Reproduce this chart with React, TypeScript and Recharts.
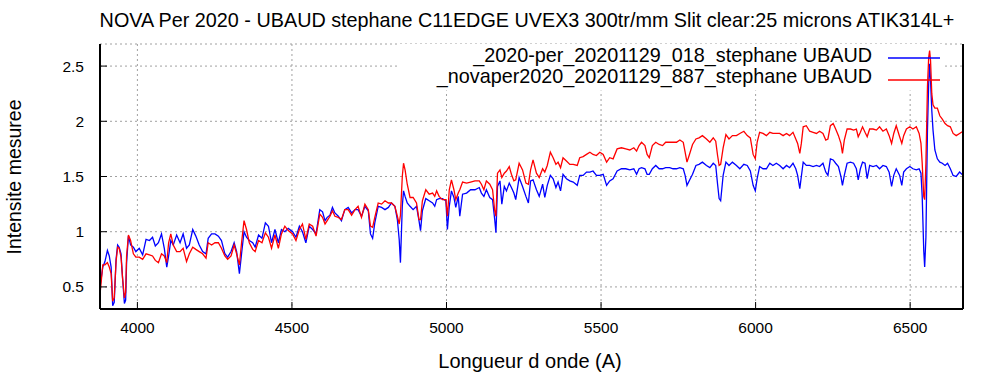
import React from "react";
import { LineChart, Line, XAxis, YAxis, CartesianGrid, ReferenceArea } from "recharts";

// wavelengths (A) shared by both spectra
const wavelengths = [
  3879, 3888, 3895, 3903, 3909, 3915, 3920, 3925, 3931, 3936, 3941, 3947, 3952, 3958, 3962, 3965,
  3971, 3978, 3987, 3995, 4006, 4017, 4028, 4039, 4049, 4058, 4068, 4078, 4087, 4095, 4101, 4108,
  4116, 4127, 4138, 4148, 4159, 4168, 4179, 4189, 4200, 4211, 4222, 4229, 4240, 4251, 4262, 4272,
  4283, 4292, 4303, 4313, 4321, 4330, 4337, 4345, 4353, 4362, 4373, 4381, 4392, 4403, 4414, 4424,
  4434, 4445, 4456, 4466, 4477, 4488, 4502, 4513, 4524, 4534, 4545, 4556, 4567, 4578,
  4590, 4599, 4607, 4614, 4623, 4631, 4639, 4650, 4660, 4671, 4682, 4693, 4704, 4714, 4725, 4736,
  4747, 4754, 4761, 4768, 4779, 4790, 4801, 4812, 4822, 4833, 4841, 4847, 4851, 4857, 4861, 4866,
  4873, 4882, 4892, 4903, 4911, 4916, 4922, 4933, 4944, 4955, 4962, 4968, 4976, 4987, 4998, 5003,
  5009, 5016, 5024, 5030, 5038, 5043, 5052, 5065, 5078, 5092, 5106, 5113, 5121, 5129, 5140, 5149,
  5156, 5160, 5165, 5173, 5179, 5187, 5194, 5203, 5210, 5218, 5224, 5235, 5246, 5257, 5265, 5272,
  5280, 5291, 5300,
  5311, 5318, 5326, 5336, 5345, 5354, 5361, 5369, 5377, 5388, 5399, 5410, 5423, 5431, 5442, 5453,
  5464, 5474, 5485, 5496, 5507, 5518, 5528, 5539, 5552, 5566, 5580, 5593, 5606, 5615, 5623, 5631,
  5642, 5649, 5656, 5666, 5677, 5688, 5699, 5709, 5722, 5733, 5744, 5755, 5766, 5772, 5778, 5785,
  5796, 5807, 5817, 5828, 5841, 5852, 5863, 5871, 5877, 5882, 5887, 5895, 5904, 5914, 5925, 5938,
  5949, 5962, 5973, 5983, 5992, 5999, 6005, 6013,
  6024, 6035, 6046, 6056, 6067, 6078, 6089, 6100, 6110, 6121, 6130, 6136, 6143, 6148, 6154, 6164,
  6175, 6186, 6197, 6207, 6218, 6227, 6234, 6242, 6251, 6259, 6268, 6276, 6281, 6287, 6296, 6307,
  6317, 6326, 6332, 6339, 6346, 6354, 6361, 6369, 6380, 6391, 6401, 6412, 6423, 6432, 6440, 6447,
  6455, 6466, 6473, 6479, 6488, 6499, 6509, 6520, 6529, 6535, 6539, 6544, 6547, 6551, 6556, 6560,
  6563, 6566, 6570, 6574, 6580, 6588, 6596, 6604, 6613, 6621, 6630, 6639, 6649, 6660, 6671,
];

// _2020-per_20201129_018 (blue)
const spectrum018 = [
  0.5, 0.68, 0.73, 0.83, 0.78, 0.68, 0.33, 0.36, 0.75, 0.88, 0.86, 0.8, 0.58, 0.35, 0.38, 0.72,
  0.96, 0.88, 0.86, 0.82, 0.85, 0.79, 0.93, 0.92, 0.95, 0.87, 0.9, 0.98, 0.85, 0.68, 0.78, 0.92,
  0.88, 0.97, 0.9, 0.98, 0.85, 0.88, 1.02, 0.96, 0.88, 0.82, 0.8, 0.94, 0.98, 0.98, 0.96, 0.92,
  0.8, 0.77, 0.82, 0.9, 0.82, 0.62, 0.8, 1.0, 0.95, 0.92, 0.9, 0.86, 0.97, 0.94, 1.08, 1.05,
  0.9, 1.02, 0.9, 1.02, 1.0, 1.03, 1.0, 0.95, 1.05, 1.0, 0.9, 1.05, 1.02, 0.98,
  1.2, 1.18, 1.1, 1.13, 1.15, 1.22, 1.17, 1.14, 1.1, 1.2, 1.22, 1.17, 1.2, 1.2, 1.14, 1.23,
  1.19, 0.98, 0.94, 1.08, 1.23, 1.22, 1.2, 1.22, 1.26, 1.23, 1.11, 0.93, 0.72, 1.23, 1.37, 1.32,
  1.26, 1.23, 1.2, 1.23, 1.1, 1.01, 1.19, 1.3, 1.28, 1.26, 1.23, 1.29, 1.3, 1.3, 1.28, 1.02,
  1.23, 1.37, 1.31, 1.22, 1.32, 1.14, 1.34, 1.35, 1.38, 1.38, 1.4, 1.35, 1.32, 1.38, 1.31, 1.29,
  1.11, 0.99, 1.41, 1.46, 1.25, 1.41, 1.37, 1.44, 1.4, 1.35, 1.29, 1.49, 1.41, 1.32, 1.26, 1.46,
  1.47, 1.38, 1.32,
  1.43, 1.31, 1.42, 1.51, 1.48, 1.4, 1.45, 1.37, 1.52, 1.48, 1.46, 1.45, 1.42, 1.51, 1.51, 1.54,
  1.54, 1.55, 1.51, 1.51, 1.52, 1.42, 1.46, 1.48, 1.55, 1.57, 1.57, 1.56, 1.57, 1.52, 1.57, 1.58,
  1.57, 1.52, 1.52, 1.57, 1.6, 1.57, 1.57, 1.58, 1.58, 1.57, 1.57, 1.58, 1.57, 1.51, 1.42, 1.46,
  1.52, 1.6, 1.61, 1.63, 1.6, 1.58, 1.62, 1.6, 1.43, 1.3, 1.28, 1.51, 1.63, 1.6, 1.63, 1.6,
  1.57, 1.61, 1.6, 1.55, 1.42, 1.37, 1.48, 1.59,
  1.57, 1.57, 1.62, 1.6, 1.62, 1.6, 1.57, 1.6, 1.58, 1.62, 1.57, 1.51, 1.39, 1.5, 1.63, 1.6,
  1.6, 1.59, 1.6, 1.59, 1.62, 1.54, 1.51, 1.66, 1.65, 1.62, 1.59, 1.5, 1.42, 1.51, 1.62, 1.63,
  1.62, 1.57, 1.47, 1.57, 1.63, 1.62, 1.48, 1.6, 1.59, 1.6, 1.57, 1.6, 1.59, 1.54, 1.41, 1.51,
  1.57, 1.51, 1.42, 1.54, 1.57, 1.59, 1.57, 1.56, 1.57, 1.53, 1.32, 0.83, 0.68, 0.95, 1.92, 2.34,
  2.52, 2.37, 2.1, 1.92, 1.74, 1.66, 1.63, 1.62, 1.6, 1.62, 1.57, 1.51, 1.5, 1.54, 1.51,
];

// _novaper2020_20201129_887 (red)
const spectrum887 = [
  0.43, 0.7, 0.7, 0.72, 0.68, 0.62, 0.37, 0.4, 0.73, 0.86, 0.85, 0.77, 0.58, 0.4, 0.45, 0.78,
  0.97, 0.92, 0.8, 0.77, 0.77, 0.75, 0.8, 0.79, 0.78, 0.74, 0.72, 0.8, 0.78, 0.72, 0.9, 0.98,
  0.88, 0.82, 0.82, 0.85, 0.73, 0.8, 0.86, 0.84, 0.82, 0.8, 0.76, 0.9, 0.88, 0.9, 0.9, 0.85,
  0.78, 0.75, 0.78, 0.88, 0.8, 0.7, 0.9, 1.1, 1.02, 0.9, 0.84, 0.82, 0.92, 0.9, 0.99, 0.95,
  0.85, 0.97, 0.85, 0.98, 1.05, 1.01, 0.98, 0.92, 1.02, 1.07, 0.93, 1.07, 1.05, 0.96,
  1.16, 1.13, 1.07, 1.1, 1.14, 1.19, 1.14, 1.13, 1.11, 1.2, 1.2, 1.15, 1.2, 1.23, 1.13, 1.25,
  1.2, 1.05, 1.04, 1.13, 1.26, 1.25, 1.28, 1.26, 1.26, 1.23, 1.14, 1.07, 1.15, 1.5, 1.62, 1.56,
  1.43, 1.31, 1.31, 1.26, 1.11, 1.11, 1.28, 1.38, 1.34, 1.35, 1.32, 1.37, 1.32, 1.29, 1.29, 1.14,
  1.38, 1.47, 1.38, 1.29, 1.35, 1.38, 1.45, 1.44, 1.45, 1.46, 1.46, 1.43, 1.38, 1.46, 1.43, 1.38,
  1.19, 1.14, 1.53, 1.56, 1.49, 1.53, 1.55, 1.59, 1.52, 1.46, 1.47, 1.62, 1.56, 1.44, 1.43, 1.56,
  1.65, 1.53, 1.49,
  1.57, 1.54, 1.6, 1.72, 1.67, 1.61, 1.63, 1.58, 1.67, 1.64, 1.61, 1.61, 1.6, 1.67, 1.68, 1.7,
  1.72, 1.7, 1.69, 1.72, 1.7, 1.63, 1.67, 1.66, 1.75, 1.76, 1.75, 1.74, 1.76, 1.73, 1.78, 1.81,
  1.78, 1.7, 1.67, 1.78, 1.81, 1.79, 1.78, 1.81, 1.81, 1.81, 1.81, 1.83, 1.81, 1.72, 1.63, 1.69,
  1.79, 1.84, 1.85, 1.87, 1.84, 1.81, 1.85, 1.82, 1.69, 1.6, 1.61, 1.76, 1.88, 1.84, 1.87, 1.87,
  1.89, 1.91, 1.87, 1.85, 1.7, 1.66, 1.81, 1.9,
  1.89, 1.87, 1.9, 1.89, 1.89, 1.89, 1.87, 1.89, 1.87, 1.9, 1.84, 1.8, 1.71, 1.8, 1.95, 1.96,
  1.91, 1.9, 1.89, 1.91, 1.89, 1.83, 1.84, 1.96, 1.98, 1.93, 1.87, 1.8, 1.71, 1.83, 1.93, 1.93,
  1.92, 1.93, 1.86, 1.9, 1.95, 1.9, 1.86, 1.93, 1.93, 1.92, 1.95, 1.91, 1.93, 1.87, 1.8, 1.89,
  1.96, 1.86, 1.8, 1.87, 1.93, 1.95, 1.93, 1.95, 1.89, 1.8, 1.62, 1.32, 1.29, 1.62, 2.31, 2.58,
  2.64, 2.55, 2.25, 2.15, 2.12, 2.12, 2.05, 2.02, 1.98, 1.96, 1.95, 1.89, 1.87, 1.89, 1.91,
];

const xTicks = [4000, 4500, 5000, 5500, 6000, 6500];
const yTicks = [0.5, 1, 1.5, 2, 2.5];
const seriesNames = [
  "_2020-per_20201129_018_stephane UBAUD",
  "_novaper2020_20201129_887_stephane UBAUD",
];
const seriesColors = ["#0000ff", "#ff0000"];

const data = wavelengths.map((w, i) => ({ w, s018: spectrum018[i], s887: spectrum887[i] }));

const font = "'Liberation Sans', Arial, sans-serif";
const axisStroke = { stroke: "#000", strokeWidth: 2 };

export default function App() {
  return (
    <div style={{ position: "absolute", left: 0, top: 0, width: 1000, height: 380, background: "#fff", fontFamily: font }}>
      <LineChart width={1000} height={380} data={data} margin={{ top: 44, right: 0, bottom: 0, left: 0 }}>
        <CartesianGrid stroke="#a0a0a0" strokeDasharray="2 3" />
        <XAxis
          dataKey="w"
          type="number"
          domain={[3879, 6671]}
          ticks={xTicks}
          allowDataOverflow
          height={71}
          tickSize={-7}
          tickMargin={20}
          axisLine={axisStroke}
          tickLine={{ stroke: "#000" }}
          tick={{ fill: "#000", fontSize: 15.5, fontFamily: font }}
        />
        <XAxis
          xAxisId="top"
          orientation="top"
          type="number"
          domain={[3879, 6671]}
          ticks={xTicks}
          allowDataOverflow
          height={0}
          tickSize={-7}
          tick={false}
          axisLine={axisStroke}
          tickLine={{ stroke: "#000" }}
        />
        <YAxis
          type="number"
          domain={[0.3, 2.7]}
          ticks={yTicks}
          allowDataOverflow
          width={100}
          tickSize={-7}
          tickMargin={23}
          axisLine={axisStroke}
          tickLine={{ stroke: "#000" }}
          tick={{ fill: "#000", fontSize: 15.5, fontFamily: font }}
        />
        <YAxis
          yAxisId="right"
          orientation="right"
          type="number"
          domain={[0.3, 2.7]}
          ticks={yTicks}
          allowDataOverflow
          width={37}
          tickSize={-7}
          tick={false}
          axisLine={axisStroke}
          tickLine={{ stroke: "#000" }}
        />
        {/* opaque key box */}
        <ReferenceArea x1={4840} x2={6612} y1={2.28} y2={2.7} fill="#fff" fillOpacity={1} stroke="none" />
        <Line type="linear" dataKey="s018" name={seriesNames[0]} stroke={seriesColors[0]} strokeWidth={1.3} dot={false} isAnimationActive={false} />
        <Line type="linear" dataKey="s887" name={seriesNames[1]} stroke={seriesColors[1]} strokeWidth={1.3} dot={false} isAnimationActive={false} />
      </LineChart>
      <svg width={1000} height={380} style={{ position: "absolute", left: 0, top: 0, pointerEvents: "none" }}>
        <text x={527} y={27} textAnchor="middle" fontSize={19.8} fill="#000" fontFamily={font}>
          NOVA Per 2020 - UBAUD stephane C11EDGE UVEX3 300tr/mm Slit clear:25 microns ATIK314L+
        </text>
        <text x={530} y={368} textAnchor="middle" fontSize={20} fill="#000" fontFamily={font}>
          Longueur d onde (A)
        </text>
        <text x={21} y={177} textAnchor="middle" fontSize={19.5} fill="#000" fontFamily={font} transform="rotate(-90 21 177)">
          Intensite mesuree
        </text>
        {seriesNames.map((name, i) => (
          <g key={name}>
            <text x={872} y={62 + i * 21} textAnchor="end" fontSize={19.8} fill="#000" fontFamily={font}>
              {name}
            </text>
            <line x1={888} x2={940} y1={58 + i * 22} y2={58 + i * 22} stroke={seriesColors[i]} strokeWidth={1.3} />
          </g>
        ))}
      </svg>
    </div>
  );
}
